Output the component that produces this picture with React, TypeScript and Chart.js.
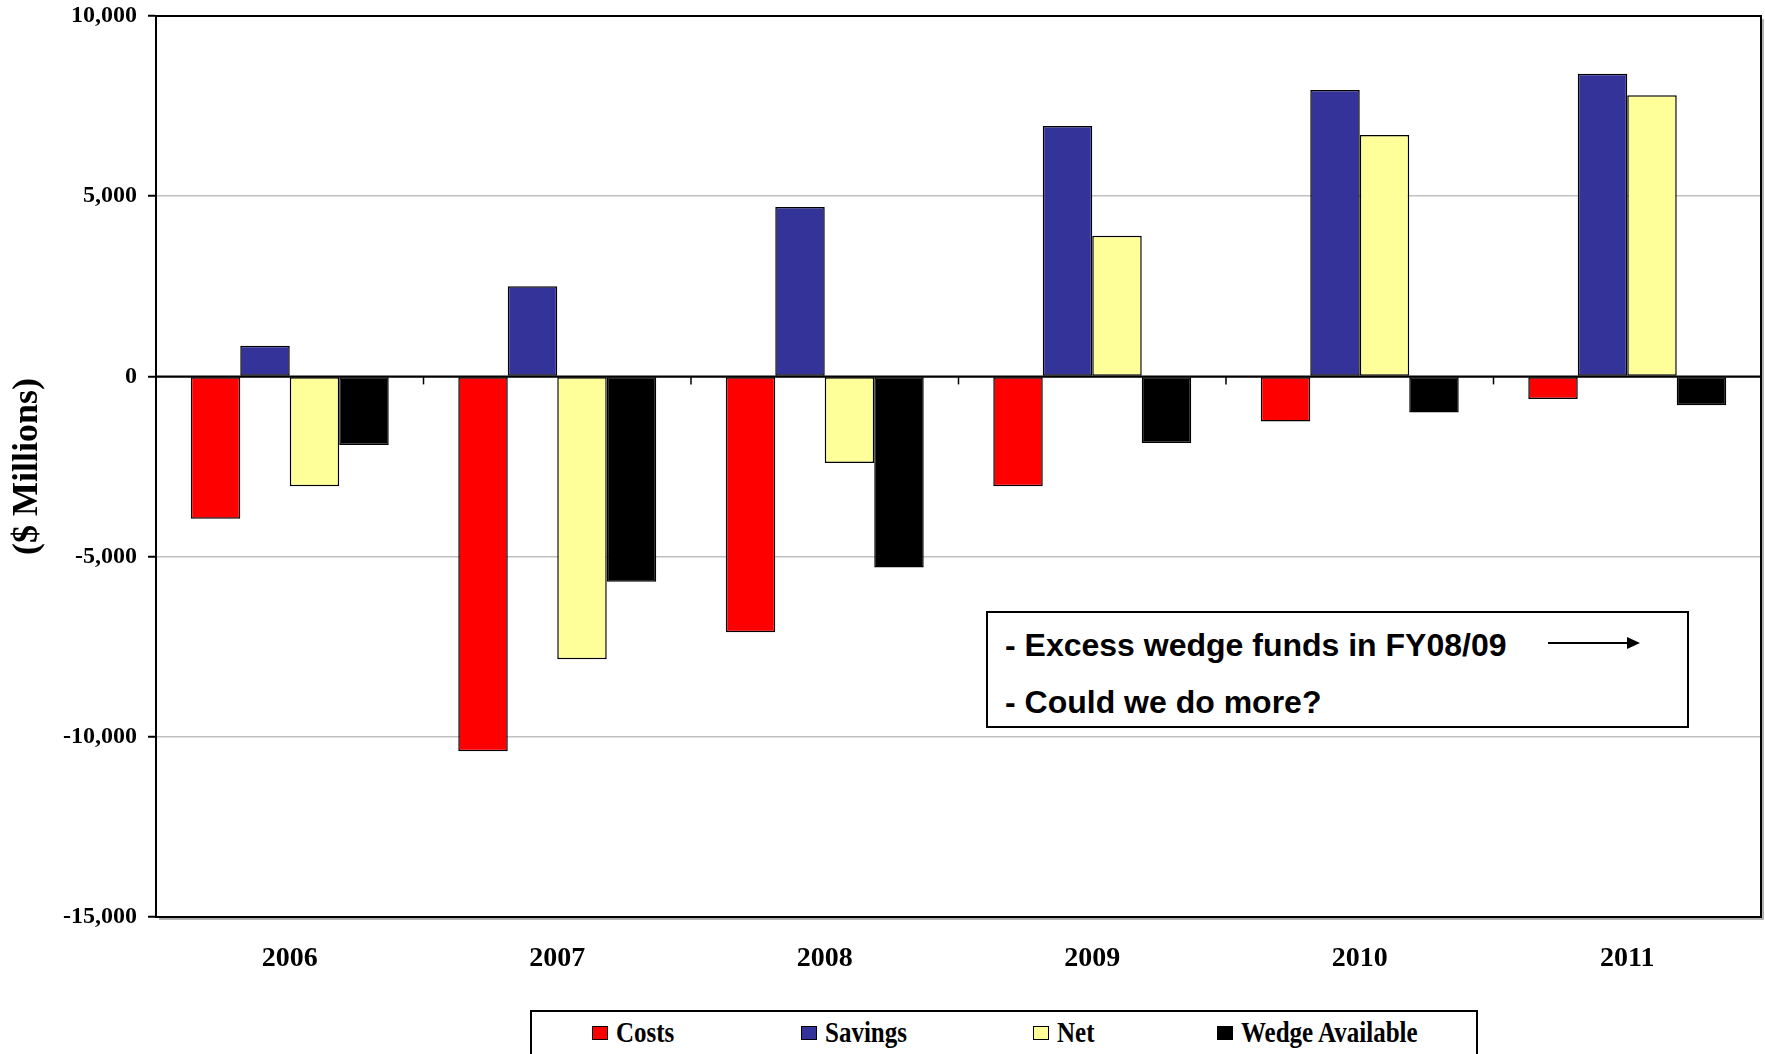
import React, { useEffect, useRef } from 'react';
import { Chart, registerables } from 'chart.js';

Chart.register(...registerables);

const categories = ['2006', '2007', '2008', '2009', '2010', '2011'];
const costs = [-3950, -10400, -7100, -3050, -1250, -625];
const savings = [850, 2500, 4700, 6950, 7950, 8400];
const net = [-3050, -7850, -2400, 3900, 6700, 7800];
const wedge = [-1900, -5700, -5300, -1850, -1000, -800];
const seriesNames = ['Costs', 'Savings', 'Net', 'Wedge Available'];
const seriesColors = ['#FF0000', '#333399', '#FFFF99', '#000000'];
const yTicks = [10000, 5000, 0, -5000, -10000, -15000];
const noteLines = ['- Excess wedge funds in FY08/09', '- Could we do more?'];

const SERIF = '"Liberation Serif", "Times New Roman", serif';
const SANS = '"Liberation Sans", Arial, sans-serif';

const legendX = [592, 801, 1033, 1217];

export default function App() {
  const ref = useRef<HTMLCanvasElement>(null);

  useEffect(() => {
    const framePlugin = {
      id: 'frame',
      afterDatasetsDraw(chart: any) {
        const { ctx, chartArea } = chart;
        const xs = chart.scales.x;
        const ys = chart.scales.y;
        const y0 = ys.getPixelForValue(0);
        ctx.save();
        ctx.strokeStyle = '#000';
        ctx.lineWidth = 2;
        ctx.beginPath();
        ctx.moveTo(chartArea.left, y0);
        ctx.lineTo(chartArea.right, y0);
        ctx.stroke();
        ctx.lineWidth = 1.5;
        for (let i = 1; i < categories.length; i++) {
          const px = (xs.getPixelForValue(i - 1) + xs.getPixelForValue(i)) / 2;
          ctx.beginPath();
          ctx.moveTo(px, y0);
          ctx.lineTo(px, y0 + 8);
          ctx.stroke();
        }
        ctx.strokeStyle = '#999';
        ctx.lineWidth = 1.5;
        ctx.beginPath();
        ctx.moveTo(chartArea.right + 2, chartArea.top + 3);
        ctx.lineTo(chartArea.right + 2, chartArea.bottom + 2);
        ctx.lineTo(chartArea.left + 3, chartArea.bottom + 2);
        ctx.stroke();
        ctx.strokeStyle = '#000';
        ctx.lineWidth = 2;
        ctx.strokeRect(chartArea.left, chartArea.top, chartArea.right - chartArea.left, chartArea.bottom - chartArea.top);
        ctx.restore();
      },
    };

    const values = [costs, savings, net, wedge];
    const chart = new Chart(ref.current as HTMLCanvasElement, {
      type: 'bar',
      data: {
        labels: categories,
        datasets: seriesNames.map((name, i) => ({
          label: name,
          data: values[i],
          backgroundColor: seriesColors[i],
          borderColor: '#000',
          borderWidth: 1.5,
          borderSkipped: false,
          categoryPercentage: 0.74,
          barPercentage: 1,
        })),
      },
      options: {
        animation: false,
        responsive: false,
        devicePixelRatio: 1,
        layout: { padding: { top: 16, right: 4, left: 0, bottom: 0 } },
        plugins: {
          legend: { display: false },
          tooltip: { enabled: false },
        },
        scales: {
          x: {
            grid: { display: false },
            border: { display: true, color: '#000', width: 2 },
            ticks: {
              color: '#000',
              padding: 17,
              font: { family: SERIF, size: 28, weight: 'bold' },
            },
            afterFit: (s: any) => {
              s.height = 137;
              s.paddingLeft = 0;
              s.paddingRight = 0;
            },
          },
          y: {
            min: -15000,
            max: 10000,
            afterBuildTicks: (s: any) => {
              s.ticks = yTicks.map((v) => ({ value: v }));
            },
            ticks: {
              color: '#000',
              padding: 11,
              font: { family: SERIF, size: 24, weight: 'bold' },
              callback: (v: any) => Number(v).toLocaleString('en-US'),
            },
            grid: {
              color: (c: any) => (c.tick && c.tick.value === 0 ? '#000' : '#c0c0c0'),
              lineWidth: 1.5,
              tickColor: '#000',
              tickLength: 8,
              tickWidth: 2,
            },
            border: { display: true, color: '#000', width: 2 },
            title: {
              display: true,
              text: '($ Millions)',
              color: '#000',
              font: { family: SERIF, size: 36, weight: 'bold' },
              padding: { top: 6, bottom: 0 },
            },
            afterFit: (s: any) => {
              s.width = 156;
              s.paddingTop = 0;
              s.paddingBottom = 0;
            },
          },
        },
      },
      plugins: [framePlugin],
    } as any);
    return () => chart.destroy();
  }, []);

  return (
    <div style={{ position: 'absolute', left: 0, top: 0, width: 1765, height: 1054, overflow: 'hidden', background: '#fff' }}>
      <canvas ref={ref} width={1765} height={1054} style={{ display: 'block', width: 1765, height: 1054 }} />
      <div
        style={{
          position: 'absolute', left: 986, top: 611, width: 703, height: 117, boxSizing: 'border-box',
          border: '2px solid #000', background: '#fff', fontFamily: SANS, fontWeight: 'bold', fontSize: 32, color: '#000',
        }}
      >
        <div style={{ position: 'absolute', left: 17, top: 32 - 19, whiteSpace: 'nowrap', lineHeight: '38px' }}>{noteLines[0]}</div>
        <div style={{ position: 'absolute', left: 17, top: 89 - 19, whiteSpace: 'nowrap', lineHeight: '38px' }}>{noteLines[1]}</div>
        <svg style={{ position: 'absolute', left: 550, top: 20 }} width={110} height={20}>
          <line x1={10} y1={10} x2={92} y2={10} stroke="#000" strokeWidth={2} />
          <polygon points="89,4 102,10 89,16" fill="#000" />
        </svg>
      </div>
      <div
        style={{
          position: 'absolute', left: 530, top: 1010, width: 948, height: 70, boxSizing: 'border-box',
          border: '2px solid #000', background: '#fff',
        }}
      />
      {seriesNames.map((name, i) => (
        <div key={name} style={{ position: 'absolute', left: legendX[i], top: 1019, height: 28, display: 'flex', alignItems: 'center', whiteSpace: 'nowrap' }}>
          <span style={{ display: 'inline-block', width: 14, height: 12, background: seriesColors[i], border: '1.5px solid #000', marginRight: 8 }} />
          <span style={{ display: 'inline-block', fontFamily: SERIF, fontWeight: 'bold', fontSize: 25, color: '#000', transform: 'scaleY(1.15)', lineHeight: '28px' }}>{name}</span>
        </div>
      ))}
    </div>
  );
}
